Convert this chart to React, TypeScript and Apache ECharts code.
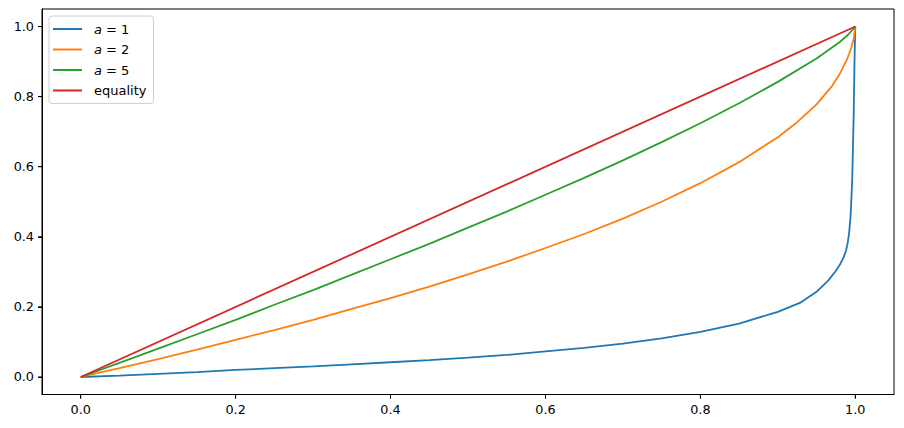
import React, { useEffect, useRef } from "react";
import * as echarts from "echarts";

const seriesNames = ["a = 1", "a = 2", "a = 5", "equality"];
const colors = ["#1f77b4", "#ff7f0e", "#2ca02c", "#d62728"];
const tickValues = [0, 0.2, 0.4, 0.6, 0.8, 1.0];

const a1X = [0, 0.05, 0.1, 0.15, 0.2, 0.25, 0.3, 0.35, 0.4, 0.45, 0.5, 0.55, 0.6, 0.65, 0.7, 0.75, 0.8, 0.85, 0.9, 0.93, 0.95, 0.965, 0.975, 0.98, 0.985, 0.988, 0.99, 0.992, 0.994, 0.996, 0.998, 0.999, 1];
const a1Y = [0, 0.004, 0.009, 0.014, 0.02, 0.025, 0.03, 0.036, 0.042, 0.048, 0.055, 0.063, 0.073, 0.083, 0.095, 0.11, 0.129, 0.152, 0.186, 0.213, 0.243, 0.275, 0.303, 0.32, 0.342, 0.36, 0.38, 0.41, 0.46, 0.56, 0.75, 0.9, 1];

const a2X = [0, 0.05, 0.1, 0.15, 0.2, 0.25, 0.3, 0.35, 0.4, 0.45, 0.5, 0.55, 0.6, 0.65, 0.7, 0.75, 0.8, 0.85, 0.9, 0.925, 0.95, 0.97, 0.98, 0.99, 0.995, 0.998, 1];
const a2Y = [0, 0.025, 0.051, 0.078, 0.106, 0.134, 0.163, 0.194, 0.225, 0.258, 0.293, 0.329, 0.368, 0.408, 0.452, 0.5, 0.553, 0.613, 0.684, 0.727, 0.778, 0.83, 0.865, 0.91, 0.94, 0.965, 1];

const a5X = [0, 0.05, 0.1, 0.15, 0.2, 0.25, 0.3, 0.35, 0.4, 0.45, 0.5, 0.55, 0.6, 0.65, 0.7, 0.75, 0.8, 0.85, 0.9, 0.95, 0.97, 0.98, 0.99, 1];
const a5Y = [0, 0.04, 0.081, 0.122, 0.163, 0.206, 0.248, 0.292, 0.336, 0.38, 0.426, 0.472, 0.52, 0.568, 0.618, 0.67, 0.724, 0.781, 0.842, 0.909, 0.94, 0.956, 0.975, 1];

const eqX = [0, 1];
const eqY = [0, 1];

const AXIS_MIN = -0.05;
const AXIS_MAX = 1.05;

const zip = (xs: number[], ys: number[]) => xs.map((x, i) => [x, ys[i]]);

export default function App() {
  const ref = useRef<HTMLDivElement>(null);
  useEffect(() => {
    if (!ref.current) return;
    const chart = echarts.init(ref.current, null, { renderer: "svg" });
    const font = "DejaVu Sans";
    const datasets = [zip(a1X, a1Y), zip(a2X, a2Y), zip(a5X, a5Y), zip(eqX, eqY)];
    const axisCommon = {
      type: "value",
      min: AXIS_MIN,
      max: AXIS_MAX,
      splitLine: { show: false },
      axisLine: { show: true, onZero: false, lineStyle: { color: "#000", width: 1 } },
      axisTick: { show: true, inside: false, length: 4, lineStyle: { color: "#000", width: 1 }, customValues: tickValues },
      axisLabel: {
        customValues: tickValues,
        formatter: (v: number) => v.toFixed(1),
        fontFamily: font,
        fontSize: 12.8,
        color: "#000",
        margin: 8,
      },
    };
    const tickSeries = {
      type: "custom",
      silent: true,
      clip: false,
      z: 10,
      data: tickValues.map((v) => [v, v]),
      renderItem: (params: any, api: any) => {
        const v = api.value(0);
        const px = api.coord([v, AXIS_MIN]);
        const py = api.coord([AXIS_MIN, v]);
        const st = { stroke: "#000000", lineWidth: 1, fill: null };
        return {
          type: "group",
          children: [
            { type: "line", shape: { x1: px[0], y1: px[1], x2: px[0], y2: px[1] + 4 }, style: st },
            { type: "line", shape: { x1: py[0], y1: py[1], x2: py[0] - 4, y2: py[1] }, style: st },
          ],
        };
      },
    };
    chart.setOption({
      animation: false,
      backgroundColor: "#ffffff",
      grid: {
        left: 42,
        top: 9,
        right: 10,
        bottom: 33.5,
        show: true,
        borderColor: "#000",
        borderWidth: 1,
        backgroundColor: "transparent",
      },
      legend: {
        data: seriesNames,
        orient: "vertical",
        left: 49,
        top: 16,
        padding: [6, 7, 6, 4],
        itemGap: 6.5,
        itemWidth: 29,
        itemHeight: 2,
        icon: "rect",
        backgroundColor: "#fff",
        borderColor: "#d0d0d0",
        borderWidth: 1,
        borderRadius: 3,
        formatter: (name: string) => (name.startsWith("a = ") ? "{it|a} = " + name.slice(4) : name),
        textStyle: {
          fontFamily: font,
          fontSize: 13,
          color: "#000",
          lineHeight: 14,
          padding: [0, 0, 0, 7],
          rich: {
            it: { fontStyle: "italic", fontFamily: font, fontSize: 13, color: "#000", lineHeight: 14 },
          },
        },
      },
      xAxis: { ...axisCommon, position: "bottom" },
      yAxis: { ...axisCommon, position: "left" },
      series: [
        ...seriesNames.map((name, i) => ({
          name,
          type: "line",
          data: datasets[i],
          symbol: "none",
          showSymbol: false,
          smooth: false,
          color: colors[i],
          lineStyle: { color: colors[i], width: 1.8 },
        })),
        tickSeries,
      ],
    });
    return () => chart.dispose();
  }, []);
  return <div ref={ref} style={{ position: "fixed", left: 0, top: 0, width: 904, height: 428 }} />;
}
